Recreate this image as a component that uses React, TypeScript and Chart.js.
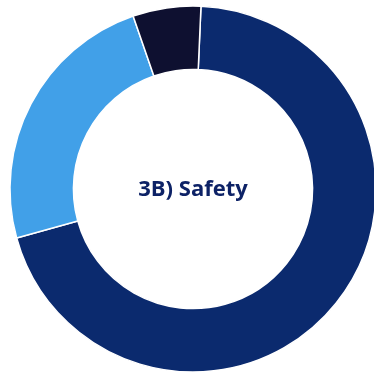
import React, { useEffect, useRef } from "react";
import { Chart, registerables } from "chart.js";

Chart.register(...registerables);

const categories = ["Category A", "Category B", "Category C"];
const values = [70, 24, 6];
const colors = ["#0B2A6E", "#41A0E8", "#0E1030"];
const centerTitle = "3B) Safety";

const centerTextPlugin = {
  id: "centerText",
  afterDraw(chart: any) {
    const meta = chart.getDatasetMeta(0);
    if (!meta || !meta.data.length) return;
    const arc = meta.data[0];
    const ctx = chart.ctx;
    ctx.save();
    ctx.font = "bold 22px 'Open Sans', 'Noto Sans', sans-serif";
    ctx.fillStyle = "#0D2266";
    ctx.textAlign = "center";
    ctx.textBaseline = "middle";
    ctx.fillText(centerTitle, arc.x, arc.y + 1);
    ctx.restore();
  },
};

export default function App() {
  const ref = useRef<HTMLCanvasElement | null>(null);
  useEffect(() => {
    if (!ref.current) return;
    const chart = new Chart(ref.current, {
      type: "doughnut",
      data: {
        labels: categories,
        datasets: [
          {
            data: values,
            backgroundColor: colors,
            borderColor: "#FFFFFF",
            borderWidth: 1.5,
          },
        ],
      },
      options: {
        animation: false,
        responsive: true,
        maintainAspectRatio: false,
        rotation: 2.5,
        radius: 183,
        cutout: 123,
        layout: { padding: 0 },
        plugins: {
          legend: { display: false },
          tooltip: { enabled: false },
          title: { display: false },
        },
      },
      plugins: [centerTextPlugin],
    });
    return () => chart.destroy();
  }, []);
  return (
    <div style={{ position: "fixed", left: 0, top: 0, width: 374, height: 377, overflow: "hidden", background: "#fff" }}>
      <div style={{ position: "absolute", left: 0, top: 0, width: 386, height: 378 }}>
        <canvas ref={ref} />
      </div>
    </div>
  );
}
